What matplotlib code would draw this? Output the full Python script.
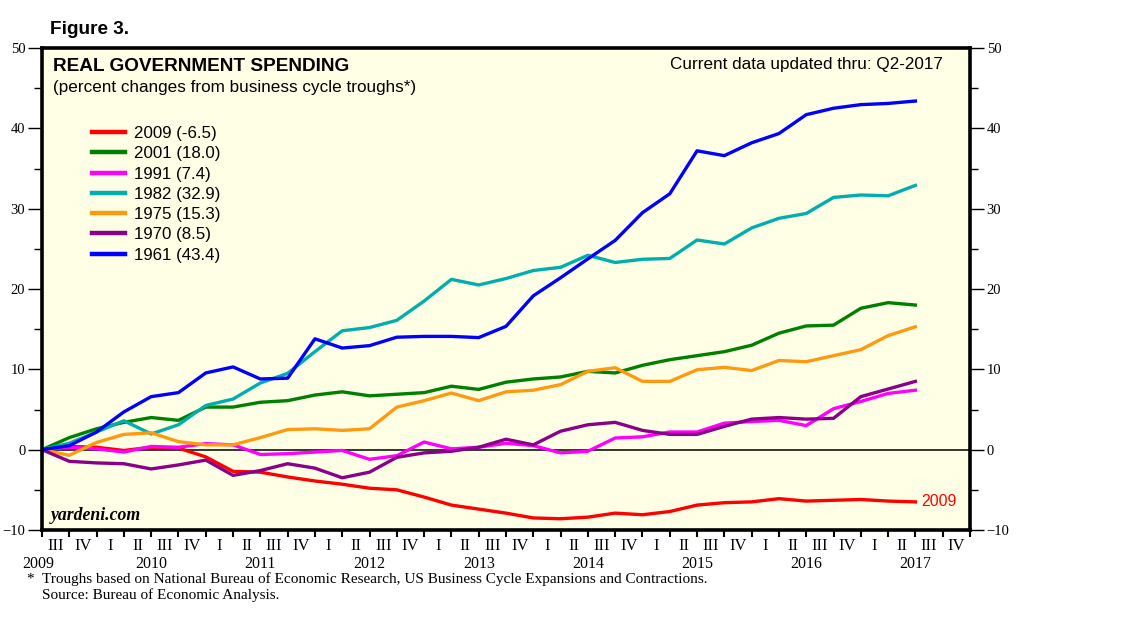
import matplotlib.pyplot as plt
import numpy as np

# quarters since the 2009 Q2 trough (0 = trough)
quarters = np.arange(33)

s2009 = [0, 0.4, 0.3, -0.1, 0.3, 0.2, -0.9, -2.7, -2.8, -3.4, -3.9, -4.3, -4.8, -5.0, -5.9, -6.9, -7.4,
         -7.9, -8.5, -8.6, -8.4, -7.9, -8.1, -7.7, -6.9, -6.6, -6.5, -6.1, -6.4, -6.3, -6.2, -6.4, -6.5]
s2001 = [0, 1.5, 2.6, 3.4, 4.0, 3.65, 5.3, 5.3, 5.9, 6.1, 6.8, 7.2, 6.7, 6.9, 7.1, 7.9, 7.5,
         8.4, 8.8, 9.05, 9.75, 9.55, 10.5, 11.2, 11.7, 12.2, 13.0, 14.5, 15.4, 15.5, 17.6, 18.3, 18.0]
s1991 = [0, 0.3, 0.1, -0.3, 0.4, 0.3, 0.75, 0.6, -0.6, -0.5, -0.3, -0.1, -1.2, -0.75, 0.95, 0.1, 0.3,
         0.8, 0.5, -0.4, -0.2, 1.45, 1.6, 2.2, 2.2, 3.3, 3.5, 3.65, 3.0, 5.1, 6.0, 7.0, 7.4]
s1982 = [0, 0.8, 2.2, 3.6, 1.95, 3.1, 5.5, 6.3, 8.3, 9.5, 12.2, 14.8, 15.2, 16.1, 18.5, 21.2, 20.5,
         21.3, 22.3, 22.7, 24.2, 23.3, 23.7, 23.8, 26.1, 25.6, 27.6, 28.8, 29.4, 31.4, 31.7, 31.6, 32.9]
s1975 = [0, -0.7, 0.9, 1.9, 2.1, 1.0, 0.6, 0.6, 1.5, 2.5, 2.6, 2.4, 2.6, 5.3, 6.1, 7.05, 6.1,
         7.2, 7.4, 8.1, 9.75, 10.2, 8.5, 8.5, 9.95, 10.25, 9.85, 11.1, 10.95, 11.7, 12.45, 14.2, 15.3]
s1970 = [0, -1.45, -1.65, -1.75, -2.4, -1.9, -1.3, -3.2, -2.6, -1.75, -2.3, -3.5, -2.8, -0.95, -0.4, -0.2, 0.3,
         1.3, 0.6, 2.3, 3.1, 3.4, 2.4, 1.9, 1.9, 2.9, 3.8, 4.0, 3.8, 3.9, 6.6, 7.55, 8.5]
s1961 = [0, 0.5, 2.2, 4.7, 6.6, 7.1, 9.55, 10.3, 8.8, 8.9, 13.8, 12.65, 12.95, 14.0, 14.1, 14.1, 13.95,
         15.35, 19.15, 21.4, 23.75, 26.05, 29.5, 31.85, 37.2, 36.6, 38.2, 39.35, 41.7, 42.5, 42.95, 43.1, 43.4]

labels = ["2009 (-6.5)", "2001 (18.0)", "1991 (7.4)", "1982 (32.9)",
          "1975 (15.3)", "1970 (8.5)", "1961 (43.4)"]
colors = ["#ff0000", "#008000", "#ff00ff", "#00aeae", "#ff9a10", "#8b008b", "#0000ff"]
series = [s2009, s2001, s1991, s1982, s1975, s1970, s1961]

qtr_labels = ["III", "IV"] + ["I", "II", "III", "IV"] * 8
years = ["2009", "2010", "2011", "2012", "2013", "2014", "2015", "2016", "2017"]

sans = ["Liberation Sans", "DejaVu Sans"]
serif = ["Liberation Serif", "DejaVu Serif"]

fig = plt.figure(figsize=(11.38, 6.23), dpi=100)
ax = fig.add_axes([42 / 1138, 1 - 530 / 623, 928 / 1138, 482 / 623])
ax.set_facecolor("#ffffe6")

for s, c, lab in zip(series, colors, labels):
    ax.plot(quarters[:len(s)], s, color=c, lw=2.4, label=lab, solid_joinstyle="round")

ax.axhline(0, color="black", lw=1.1, zorder=1)

ax.set_xlim(0, 34)
ax.set_ylim(-10, 50)

for sp in ax.spines.values():
    sp.set_linewidth(2.6)

# y axis: both sides
ax.set_yticks(np.arange(-10, 51, 10))
ax.set_yticks(np.arange(-5, 50, 10), minor=True)
ax.tick_params(axis="y", which="major", direction="out", length=10, width=1,
               left=True, right=True, labelleft=True, labelright=True, labelsize=10.5, pad=2)
ax.tick_params(axis="y", which="minor", direction="out", length=6, width=1, left=True, right=True)
for t in ax.get_yticklabels():
    t.set_fontfamily(serif)

# x axis: quarter boundaries, quarter labels between them
ax.set_xticks(np.arange(0, 35))
ax.set_xticklabels([])
ax.set_xticks(np.arange(34) + 0.5, minor=True)
ax.set_xticklabels(qtr_labels, minor=True, fontfamily=serif, fontsize=12)
ax.tick_params(axis="x", which="major", direction="out", length=5, width=1.5)
ax.tick_params(axis="x", which="minor", length=0, pad=6)

year_pos = np.arange(len(years)) * 4.0
year_pos[0] = -0.15
for xp, yr in zip(year_pos, years):
    ax.text(xp, -0.053, yr, transform=ax.get_xaxis_transform(), ha="center", va="top",
            fontsize=11.5, fontfamily=serif, clip_on=False)

ax.text(32.2, s2009[-1], "2009", color="#ff0000", fontsize=11.5, fontfamily=sans, va="center", ha="left")

leg = ax.legend(loc="upper left", bbox_to_anchor=(0.054, 0.838), frameon=False, prop={"family": sans, "size": 12.2},
                handlelength=1.95, handletextpad=0.55, labelspacing=0.31, borderaxespad=0, borderpad=0)
for h in leg.get_lines():
    h.set_linewidth(3.2)

ax.text(0.012, 0.98, "REAL GOVERNMENT SPENDING", transform=ax.transAxes, fontsize=13.7,
        fontweight="bold", fontfamily=sans, va="top", ha="left")
ax.text(0.012, 0.933, "(percent changes from business cycle troughs*)", transform=ax.transAxes,
        fontsize=12.3, fontfamily=sans, va="top", ha="left")
ax.text(0.971, 0.982, "Current data updated thru: Q2-2017", transform=ax.transAxes, fontsize=12.3,
        fontfamily=sans, va="top", ha="right")
ax.text(0.009, 0.012, "yardeni.com", transform=ax.transAxes, fontsize=12.8, fontstyle="italic",
        fontweight="bold", fontfamily=serif, va="bottom", ha="left")

fig.text(50 / 1138, 1 - 30 / 623, "Figure 3.", fontsize=13.7, fontweight="bold", fontfamily=sans, va="center")
fig.text(26 / 1138, 1 - 579 / 623, "*", fontsize=11, fontfamily=serif, va="center")
fig.text(42 / 1138, 1 - 579 / 623, "Troughs based on National Bureau of Economic Research, US Business Cycle Expansions and Contractions.",
         fontsize=11, fontfamily=serif, va="center")
fig.text(42 / 1138, 1 - 595 / 623, "Source: Bureau of Economic Analysis.", fontsize=11, fontfamily=serif, va="center")

fig.savefig("out.png", dpi=100, facecolor="white")
